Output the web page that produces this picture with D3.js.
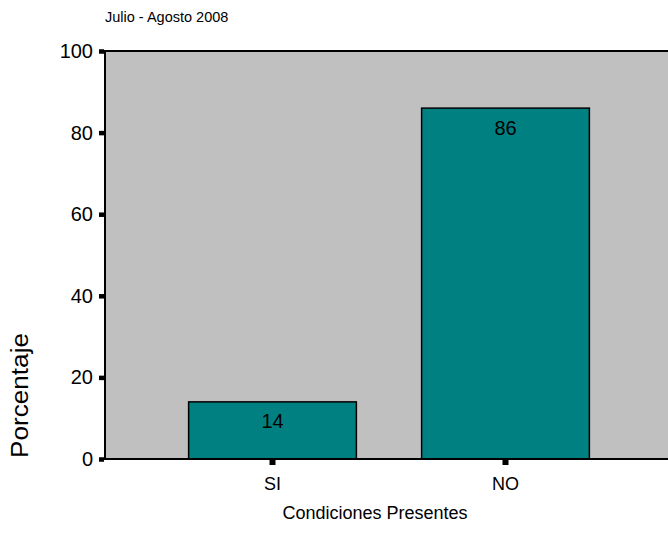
<!DOCTYPE html>
<html>
<head>
<meta charset="utf-8">
<script src="https://cdn.jsdelivr.net/npm/d3@7"></script>
<style>
  html, body { margin: 0; padding: 0; background: #ffffff; }
  svg { display: block; font-family: Arial, "Liberation Sans", sans-serif; }
</style>
</head>
<body>
<svg id="chart" width="668" height="548"></svg>
<script>
// Data
const categories = ["SI", "NO"];
const percentages = [14, 86];
const yTickValues = [0, 20, 40, 60, 80, 100];
const titleText = "Julio - Agosto 2008";
const xTitle = "Condiciones Presentes";
const yTitle = "Porcentaje";

const svg = d3.select("#chart");
const W = 668, H = 548;
const plotLeft = 105, plotTop = 51, plotBottom = 459;

const x = d3.scaleBand()
  .domain(categories)
  .range([156, 622])
  .paddingInner(0.28)
  .paddingOuter(0.14);

const y = d3.scaleLinear()
  .domain([0, 100])
  .range([plotBottom, plotTop]);

// Plot background
svg.append("rect")
  .attr("x", plotLeft)
  .attr("y", y(100))
  .attr("width", W - plotLeft)
  .attr("height", y(0) - y(100))
  .attr("fill", "#c0c0c0");

// Top frame line
svg.append("line")
  .attr("x1", plotLeft).attr("x2", W)
  .attr("y1", y(100)).attr("y2", y(100))
  .attr("stroke", "#000").attr("stroke-width", 2);

// Bars
const bars = categories.map((c, i) => ({ c, v: percentages[i] }));
svg.append("g").selectAll("rect")
  .data(bars)
  .join("rect")
  .attr("x", d => x(d.c))
  .attr("y", d => y(d.v))
  .attr("width", x.bandwidth())
  .attr("height", d => y(0) - y(d.v))
  .attr("fill", "#008080")
  .attr("stroke", "#000")
  .attr("stroke-width", 1.5);

// Value labels inside bars
svg.append("g").selectAll("text")
  .data(bars)
  .join("text")
  .attr("x", d => x(d.c) + x.bandwidth() / 2)
  .attr("y", d => y(d.v) + 26.5)
  .attr("text-anchor", "middle")
  .attr("font-size", 20)
  .attr("fill", "#000")
  .text(d => d.v);

// Y axis
const yAxis = d3.axisLeft(y)
  .tickValues(yTickValues)
  .tickSize(0)
  .tickPadding(12);
const gy = svg.append("g")
  .attr("transform", `translate(${plotLeft},0)`)
  .call(yAxis);
gy.select(".domain").remove();
gy.selectAll("text")
  .attr("font-size", 20)
  .attr("font-family", "Arial, 'Liberation Sans', sans-serif")
  .attr("fill", "#000");
gy.selectAll(".tick").append("rect")
  .attr("x", -6).attr("y", -2.25)
  .attr("width", 5).attr("height", 4.5)
  .attr("fill", "#000");
svg.append("line")
  .attr("x1", plotLeft).attr("x2", plotLeft)
  .attr("y1", y(100) - 1).attr("y2", y(0) + 1)
  .attr("stroke", "#000").attr("stroke-width", 2);

// X axis
const xAxis = d3.axisBottom(x).tickSize(0).tickPadding(18);
const gx = svg.append("g")
  .attr("transform", `translate(0,${y(0)})`)
  .call(xAxis);
gx.select(".domain").remove();
gx.selectAll("text")
  .attr("font-size", 18)
  .attr("font-family", "Arial, 'Liberation Sans', sans-serif")
  .attr("fill", "#000");
gx.selectAll(".tick").append("rect")
  .attr("x", -3).attr("y", 1)
  .attr("width", 6).attr("height", 5)
  .attr("fill", "#000");
svg.append("line")
  .attr("x1", plotLeft - 1).attr("x2", W)
  .attr("y1", y(0)).attr("y2", y(0))
  .attr("stroke", "#000").attr("stroke-width", 2);

// Titles
svg.append("text")
  .attr("x", plotLeft)
  .attr("y", 22)
  .attr("font-size", 14.5)
  .attr("fill", "#000")
  .text(titleText);

svg.append("text")
  .attr("x", 375)
  .attr("y", 519)
  .attr("text-anchor", "middle")
  .attr("font-size", 18)
  .attr("fill", "#000")
  .text(xTitle);

svg.append("text")
  .attr("transform", "translate(28,458) rotate(-90)")
  .attr("text-anchor", "start")
  .attr("font-size", 23)
  .attr("textLength", 125)
  .attr("lengthAdjust", "spacingAndGlyphs")
  .attr("fill", "#000")
  .text(yTitle);
</script>
</body>
</html>
